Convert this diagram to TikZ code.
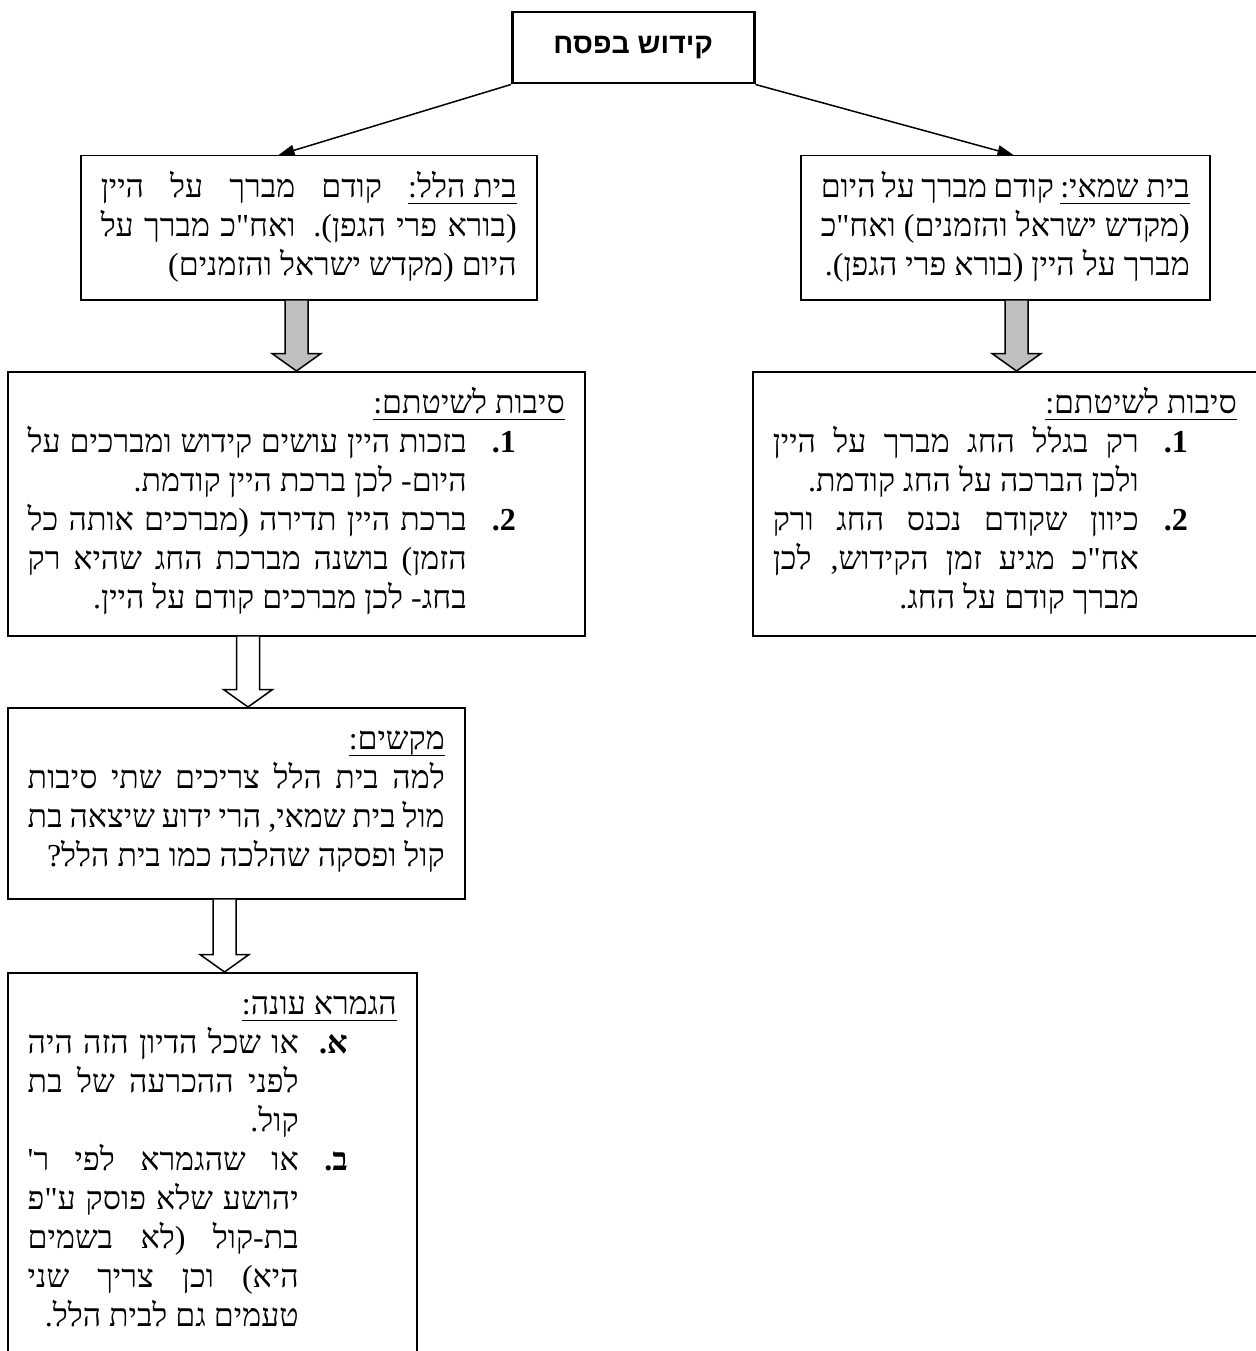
\documentclass[tikz,border=0pt]{standalone}
\usepackage{fontspec}
\usetikzlibrary{arrows.meta,calc}
\TeXXeTstate=1
\newfontfamily\heb[Script=Hebrew]{Liberation Serif}
\newfontfamily\hebsans[Script=Hebrew]{Liberation Sans}
\newdimen\bw
\newcommand\uln[1]{\setbox0\hbox{#1}\hbox{\rlap{\vrule height -5pt depth 6.5pt width \wd0}\box0}}
\newcommand\hjl[1]{\hbox to\bw{\hskip20pt\hbox to\dimexpr\bw-40pt\relax{#1}\hskip20pt}}
\newcommand\hrl[1]{\hbox to\bw{\hskip20pt\hbox to\dimexpr\bw-40pt\relax{\hfill #1}\hskip20pt}}
\newcommand\itj[2]{\hbox to\bw{\hskip20pt\hbox to\dimexpr\bw-138pt\relax{#2}\hbox to49pt{\hfill\bfseries #1}\hskip69pt}}
\newcommand\cjl[1]{\hbox to\bw{\hskip20pt\hbox to\dimexpr\bw-138pt\relax{#1}\hskip118pt}}
\newcommand\crl[1]{\hbox to\bw{\hskip20pt\hbox to\dimexpr\bw-138pt\relax{\hfill #1}\hskip118pt}}
\newcommand\lab[1]{\hbox{.\kern0pt #1}}
\newcommand\bcontent[3]{\vbox to #2{\bw=#1\relax\hrule height0pt width\bw\prevdepth=-3pt\lineskiplimit=-\maxdimen\baselineskip=39pt\relax #3\vss}}
\newcommand\blockarrow[4]{%
  \path[#1] let \p1=(#2 -| #4), \p2=(#3 -| #4) in
    (\x1-11.5pt,\y1) -- (\x1-11.5pt,\y2+17.5pt) -- (\x1-24.5pt,\y2+17.5pt) -- (\x1,\y2)
    -- (\x1+24.5pt,\y2+17.5pt) -- (\x1+11.5pt,\y2+17.5pt) -- (\x1+11.5pt,\y1);}
\tikzset{
  box/.style={draw, line width=1.5pt, inner sep=0pt, anchor=north west, font=\heb\fontsize{32}{39}\selectfont},
  titlebox/.style={draw, line width=2.5pt, inner sep=0pt, minimum width=242pt, minimum height=71pt, anchor=north west, font=\hebsans\bfseries\fontsize{28.5}{34}\selectfont},
  conn/.style={line width=1.5pt, -{Triangle[length=16pt,width=11pt]}},
  greyarrow/.style={draw, line width=1.5pt, fill=black!25},
  whitearrow/.style={draw, line width=1.5pt, fill=white},
}
\begin{document}
\begin{tikzpicture}[x=1pt,y=-1pt]
\fill[white] (0,0) rectangle (1255,1351);
\useasboundingbox (0,0) rectangle (1255,1351);

\node[titlebox] (top) at (511,11) {\beginR קידוש בפסח\endR};

\node[box] (hillel) at (80,155) {\bcontent{456pt}{144pt}{%
  \hjl{\beginR\uln{\beginR בית הלל:\endR} קודם מברך על היין\endR}
  \hjl{\beginR (בורא פרי הגפן). ואח"כ מברך על\endR}
  \hrl{\beginR היום (מקדש ישראל והזמנים)\endR}}};

\node[box] (shammai) at (800,155) {\bcontent{409pt}{144pt}{%
  \hjl{\beginR\uln{\beginR בית שמאי:\endR} קודם מברך על היום\endR}
  \hjl{\beginR (מקדש ישראל והזמנים) ואח"כ\endR}
  \hrl{\beginR מברך על היין (בורא פרי הגפן).\endR}}};

\node[box] (reasonsL) at (7,371) {\bcontent{577pt}{264pt}{%
  \hrl{\uln{\beginR סיבות לשיטתם:\endR}}
  \itj{\lab{1}}{\beginR בזכות היין עושים קידוש ומברכים על\endR}
  \crl{\beginR היום- לכן ברכת היין קודמת.\endR}
  \itj{\lab{2}}{\beginR ברכת היין תדירה (מברכים אותה כל\endR}
  \cjl{\beginR הזמן) בושנה מברכת החג שהיא רק\endR}
  \crl{\beginR בחג- לכן מברכים קודם על היין.\endR}}};

\node[box] (reasonsR) at (752,371) {\bcontent{504pt}{264pt}{%
  \hrl{\uln{\beginR סיבות לשיטתם:\endR}}
  \itj{\lab{1}}{\beginR רק בגלל החג מברך על היין\endR}
  \crl{\beginR ולכן הברכה על החג קודמת.\endR}
  \itj{\lab{2}}{\beginR כיוון שקודם נכנס החג ורק\endR}
  \cjl{\beginR אח"כ מגיע זמן הקידוש, לכן\endR}
  \crl{\beginR מברך קודם על החג.\endR}}};

\node[box] (mkshim) at (7,707) {\bcontent{457pt}{191pt}{%
  \hrl{\uln{\beginR מקשים:\endR}}
  \hjl{\beginR למה בית הלל צריכים שתי סיבות\endR}
  \hjl{\beginR מול בית שמאי, הרי ידוע שיצאה בת\endR}
  \hrl{\beginR קול ופסקה שהלכה כמו בית הלל?\endR}}};

\node[box] (gemara) at (7,972) {\bcontent{409pt}{390pt}{%
  \hrl{\uln{\beginR הגמרא עונה:\endR}}
  \itj{\lab{א}}{\beginR או שכל הדיון הזה היה\endR}
  \cjl{\beginR לפני ההכרעה של בת\endR}
  \crl{\beginR קול.\endR}
  \itj{\lab{ב}}{\beginR או שהגמרא לפי ר'\endR}
  \cjl{\beginR יהושע שלא פוסק ע"פ\endR}
  \cjl{\beginR בת-קול (לא בשמים\endR}
  \cjl{\beginR היא) וכן צריך שני\endR}
  \crl{\beginR טעמים גם לבית הלל.\endR}}};

\draw[conn] (top.south west) -- ($(hillel.north west)!0.434!(hillel.north east)$);
\draw[conn] (top.south east) -- ($(shammai.north west)!0.52!(shammai.north east)$);

\coordinate (xg1) at (296.5,0);
\coordinate (xg2) at (1016.5,0);
\coordinate (xw1) at (248,0);
\coordinate (xw2) at (224.5,0);
\blockarrow{greyarrow}{hillel.south}{reasonsL.north}{xg1}
\blockarrow{greyarrow}{shammai.south}{reasonsR.north}{xg2}
\blockarrow{whitearrow}{reasonsL.south}{mkshim.north}{xw1}
\blockarrow{whitearrow}{mkshim.south}{gemara.north}{xw2}
\end{tikzpicture}
\end{document}
